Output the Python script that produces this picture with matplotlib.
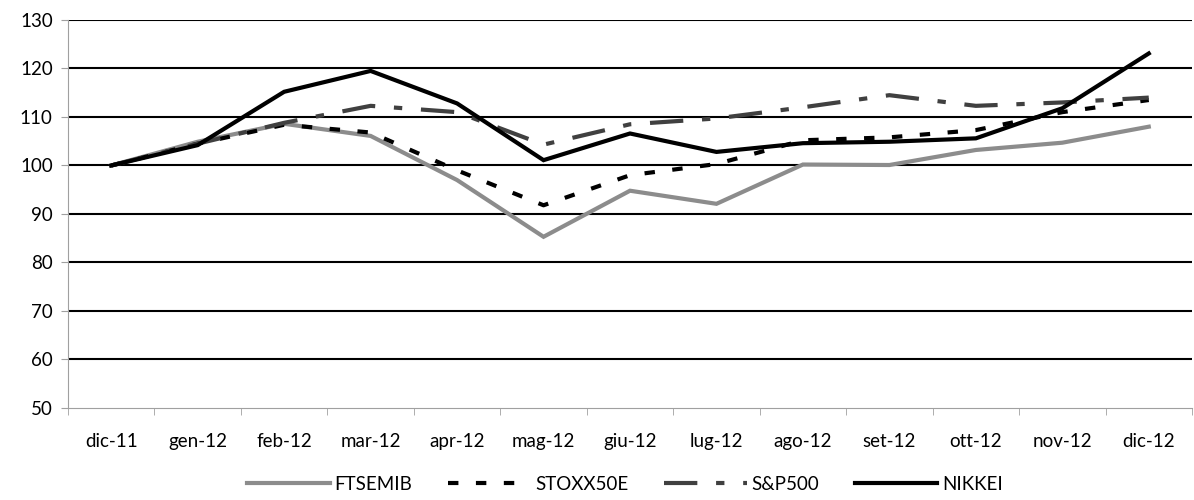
import numpy as np
import matplotlib.pyplot as plt

plt.rcParams['font.family'] = ['Lato', 'DejaVu Sans']

months = ['dic-11', 'gen-12', 'feb-12', 'mar-12', 'apr-12', 'mag-12', 'giu-12',
          'lug-12', 'ago-12', 'set-12', 'ott-12', 'nov-12', 'dic-12']

ftsemib = [100, 104.9, 108.6, 106.1, 97.0, 85.3, 94.8, 92.1, 100.2, 100.1, 103.2, 104.7, 108.0]
stoxx50e = [100, 104.5, 108.4, 106.8, 99.0, 91.8, 98.0, 100.3, 105.2, 105.8, 107.3, 111.0, 113.5]
sp500 = [100, 104.5, 108.8, 112.3, 111.0, 104.3, 108.5, 109.7, 112.0, 114.5, 112.3, 113.0, 114.0]
nikkei = [100, 104.2, 115.2, 119.5, 112.8, 101.1, 106.6, 102.8, 104.6, 104.9, 105.6, 111.8, 123.1]

x = np.arange(len(months))

fig = plt.figure(figsize=(11.94, 5.0), dpi=100)
ax = fig.add_axes([68 / 1194, 92 / 500, (1192 - 68) / 1194, (408 - 20) / 500])

# gridlines
for v in range(60, 140, 10):
    ax.axhline(v, color='black', lw=1.5, zorder=1)

ax.plot(x, ftsemib, color='#8c8c8c', lw=3, solid_joinstyle='miter', label='FTSEMIB', zorder=3)
ax.plot(x, stoxx50e, color='black', lw=3, dashes=(2.5, 4.2), label='STOXX50E', zorder=3)
ax.plot(x, sp500, color='#404040', lw=3, dashes=(8, 4.5, 2, 4.5), label='S&P500', zorder=3)
ax.plot(x, nikkei, color='black', lw=3, solid_joinstyle='miter', label='NIKKEI', zorder=4)

ax.set_xlim(-0.5, len(months) - 0.5)
ax.set_ylim(50, 130)
ax.set_yticks(range(50, 140, 10))

ax.set_xticks(x)
ax.set_xticklabels(months)
ax.set_xticks(np.arange(-0.5, len(months), 1), minor=True)
ax.tick_params(axis='x', which='major', length=0, pad=18, labelsize=13.5)
ax.tick_params(axis='x', which='minor', length=5, color='#a0a0a0', direction='out')
ax.tick_params(axis='y', length=5, color='#a0a0a0', labelsize=13.5, pad=6)

for s in ['top', 'right']:
    ax.spines[s].set_visible(False)
ax.spines['left'].set_color('#a0a0a0')
ax.spines['bottom'].set_color('#a0a0a0')

fig.legend(*ax.get_legend_handles_labels(), loc='center', bbox_to_anchor=(625 / 1194, 1 - 484 / 500),
           ncol=4, frameon=False, fontsize=13.5, handlelength=4.4, columnspacing=1.9,
           handletextpad=0.25, borderpad=0)

fig.savefig('out.png', dpi=100)
